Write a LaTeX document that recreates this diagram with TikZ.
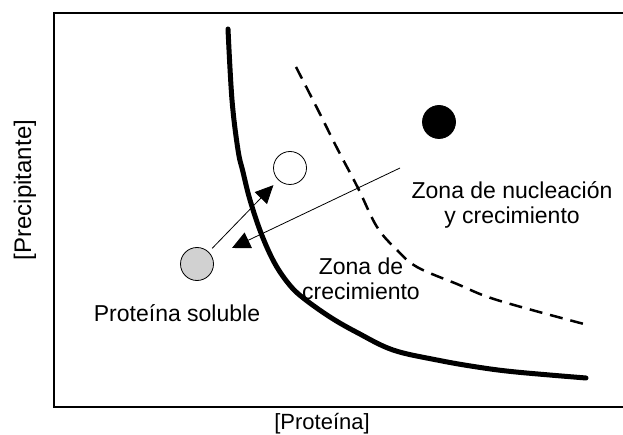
\documentclass[tikz,border=0pt]{standalone}
\usepackage{fontspec}
\setmainfont{Liberation Sans}
\usetikzlibrary{arrows.meta}
\begin{document}
\begin{tikzpicture}[x=1pt,y=-1pt,
  lbl/.style={font=\fontsize{23}{25}\selectfont, inner sep=0pt, align=center},
  ball/.style={circle, draw, line width=0.8pt, minimum size=33pt, inner sep=0pt},
  arr/.style={line width=0.8pt, -{Triangle[length=18pt,width=17pt]}},
  frame/.style={line width=2pt},
  solcurve/.style={line width=5pt, line join=round, line cap=round},
  supcurve/.style={line width=2.5pt, dash pattern=on 13pt off 8pt}
]
\useasboundingbox (0,0) rectangle (623,435);
% frame
\coordinate (tl) at (54,13);
\coordinate (tr) at (624,13);
\coordinate (bl) at (54,407);
\coordinate (br) at (624,407);
\draw[frame] (tr) -- (tl) -- (bl) -- (br);
% solubility curve
\draw[solcurve] plot[smooth, tension=0.6] coordinates {(228,29) (232,100) (238,150) (243,172) (250,200) (261,233) (274,262) (288,283) (302,297) (330,317) (358,333) (393,350) (437,360) (477,367) (516,372) (586,378)};
% supersolubility curve
\draw[supcurve] plot[smooth, tension=0.6] coordinates {(296,67) (318,110) (338,150) (358,188) (377,227) (397,250) (417,267) (457,284) (497,300) (584,324)};
% balls
\node[ball, fill=black] (nuc) at (439,122) {};
\node[ball] (open) at (290,168) {};
\node[ball, fill=black!18] (sol) at (197,264) {};
% arrows
\coordinate (l2s) at (400,168);
\coordinate (l2e) at (232,248);
\draw[arr, shorten <=5pt, shorten >=7pt] (sol) -- (open);
\draw[arr] (l2s) -- (l2e);
% labels
\node[lbl, anchor=base] (zn) at (512,224) {Zona de nucleación\\y crecimiento};
\node[lbl, anchor=base] (zc) at (361,300) {Zona de\\crecimiento};
\node[lbl, anchor=base] (ps) at (177,321) {Proteína soluble};
\node[lbl, font=\fontsize{22}{25}\selectfont, anchor=base] (xl) at (322,429) {[Proteína]};
\node[lbl, font=\fontsize{24}{26}\selectfont, rotate=90] (yl) at (25,190) {[Precipitante]};
\end{tikzpicture}
\end{document}
